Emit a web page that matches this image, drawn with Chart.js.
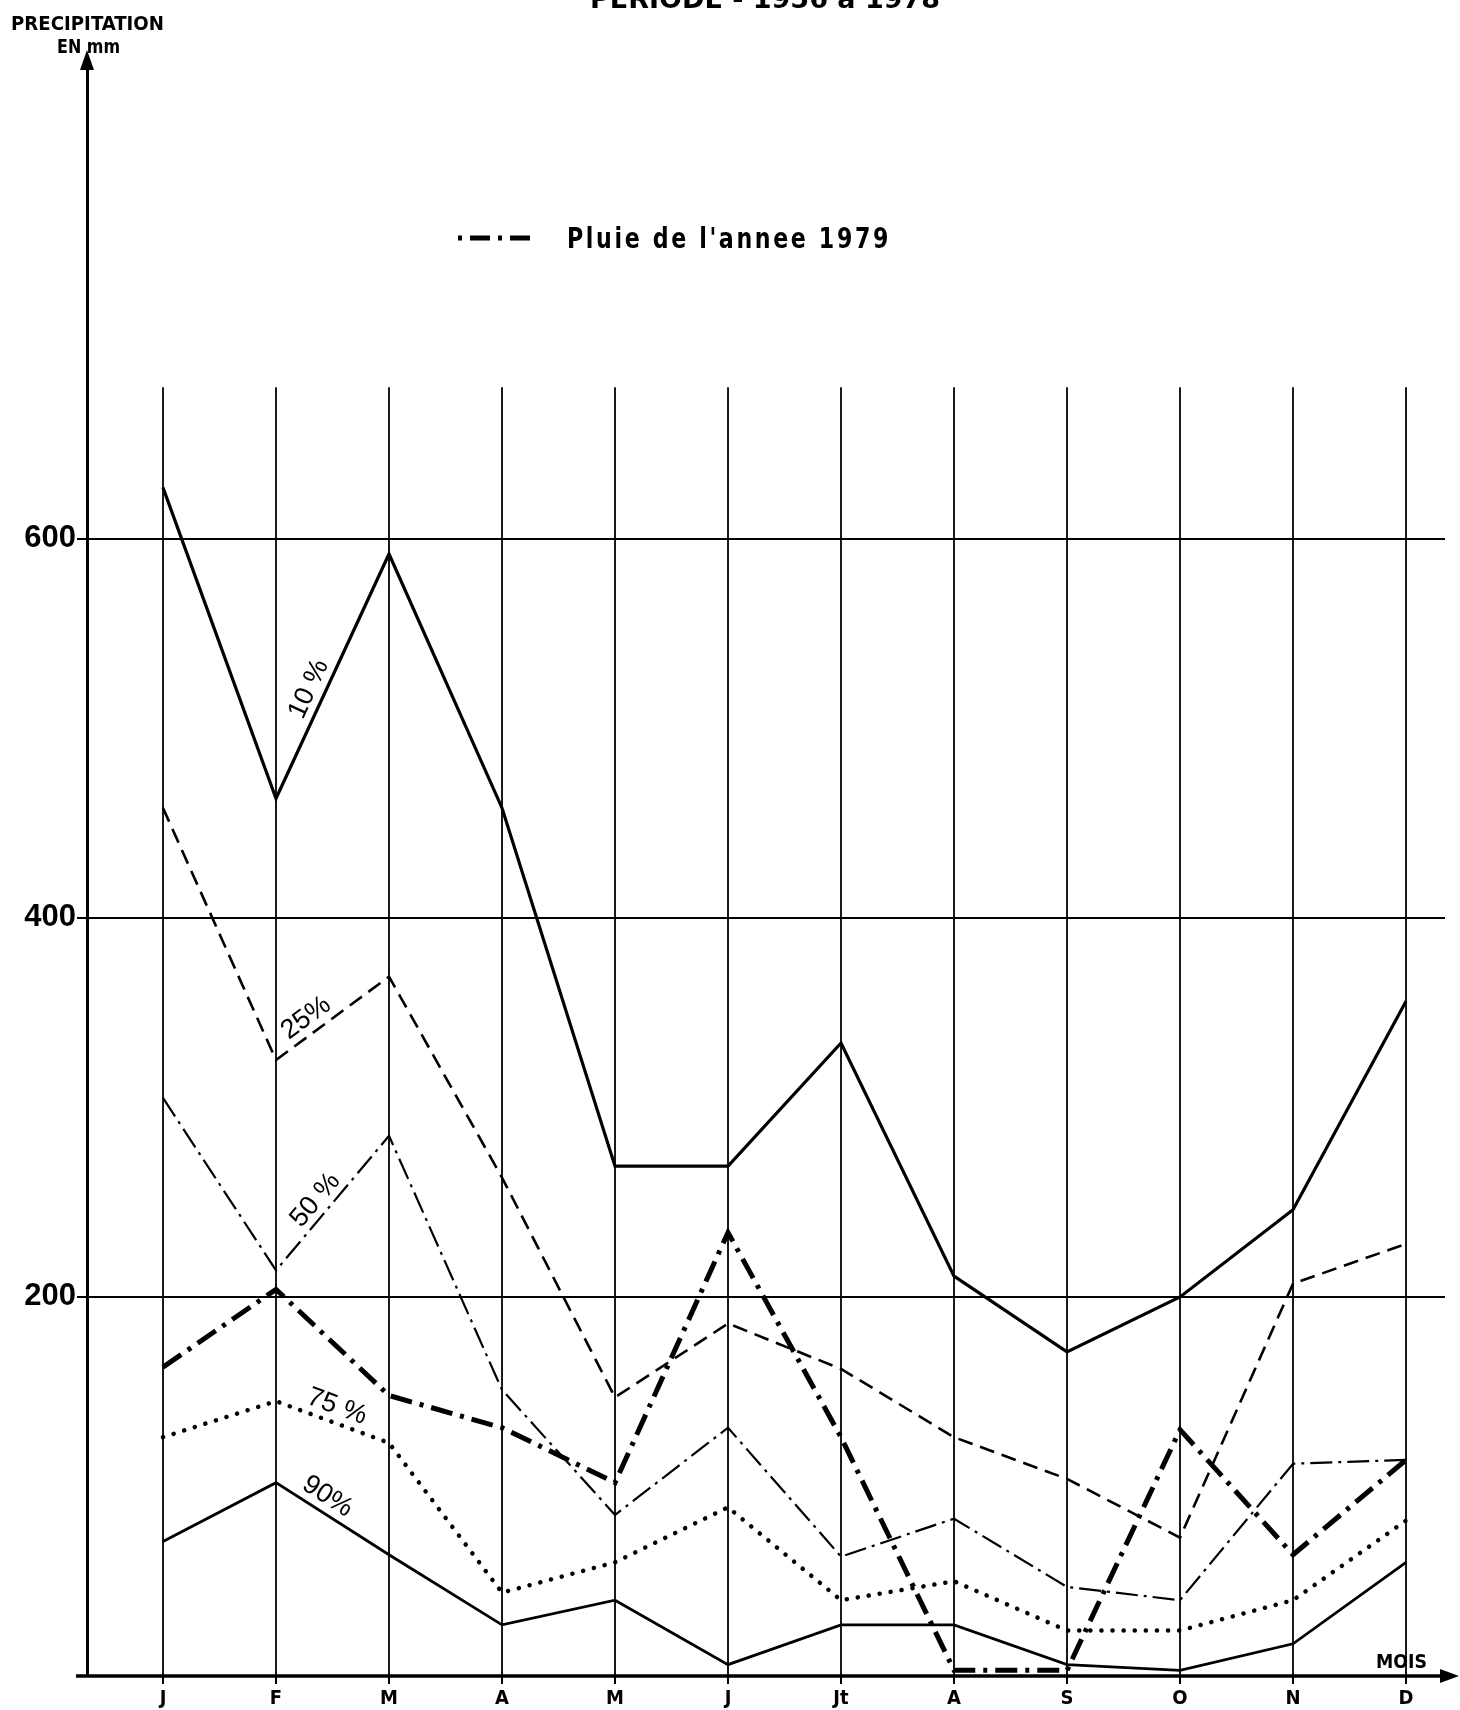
<!DOCTYPE html>
<html>
<head>
<meta charset="utf-8">
<script src="https://cdn.jsdelivr.net/npm/chart.js@4.4.1/dist/chart.umd.min.js"></script>
<style>
  html, body { margin: 0; padding: 0; background: #fff; }
  #wrap { width: 1460px; height: 1710px; }
</style>
</head>
<body>
<div id="wrap"><canvas id="myChart" width="1460" height="1710"></canvas></div>
<script>
// months on the x axis
var months = ["J", "F", "M", "A", "M", "J", "Jt", "A", "S", "O", "N", "D"];
var yTicks = [200, 400, 600];

// rainfall (mm) for each frequency curve
var rain10 = [627, 463, 592, 458, 269, 269, 334, 211, 171, 200, 246, 356];
var rain25 = [458, 325, 369, 263, 147, 186, 162, 126, 104, 73, 207, 228];
var rain50 = [305, 214, 285, 151, 85, 131, 63, 83, 47, 40, 112, 114];
var rain75 = [126, 145, 123, 44, 60, 89, 40, 50, 24, 24, 40, 82];
var rain90 = [71, 102, 64, 27, 40, 6, 27, 27, 6, 3, 17, 60];
var rain1979 = [163, 204, 148, 131, 102, 234, 126, 3, 3, 130, 64, 114];

var curveLabels = ["10 %", "25%", "50 %", "75 %", "90%"];
var legendLabel = "Pluie de l'annee 1979";
var titleText = "PERIODE - 1956 à 1978";

var boldFont = "'Liberation Sans Narrow', 'DejaVu Sans Condensed', 'Roboto Condensed', sans-serif";
var plainFont = "'Liberation Sans', Arial, sans-serif";

function pts(arr) {
  return arr.map(function (v, i) { return { x: i, y: v }; });
}

// draws text squeezed/stretched to a given width
function fitText(ctx, text, x, y, width, font) {
  ctx.save();
  ctx.font = font;
  var w = ctx.measureText(text).width;
  ctx.translate(x, y);
  ctx.scale(width / w, 1);
  ctx.textAlign = "left";
  ctx.fillText(text, 0, 0);
  ctx.restore();
}

// where the % labels sit along the F -> M segment of each curve
var labelPlaces = [
  { ds: 0, t: 0.42, off: 16 },
  { ds: 1, t: 0.35, off: 16 },
  { ds: 2, t: 0.45, off: 15 },
  { ds: 3, t: 0.49, off: 16 },
  { ds: 4, t: 0.38, off: 16 }
];

var decor = {
  id: "decor",
  beforeDatasetsDraw: function (chart) {
    var ctx = chart.ctx;
    var xs = chart.scales.x, ys = chart.scales.y;
    ctx.save();
    ctx.strokeStyle = "#000";
    ctx.lineWidth = 1.8;
    months.forEach(function (m, i) {
      var px = xs.getPixelForValue(i);
      ctx.beginPath();
      ctx.moveTo(px, ys.getPixelForValue(680));
      ctx.lineTo(px, ys.getPixelForValue(0));
      ctx.stroke();
    });
    ctx.restore();
  },
  afterDraw: function (chart) {
    var ctx = chart.ctx;
    var xs = chart.scales.x, ys = chart.scales.y;
    var area = chart.chartArea;
    var y0 = ys.getPixelForValue(0);
    ctx.save();
    ctx.fillStyle = "#000";
    ctx.strokeStyle = "#000";

    // x axis with arrow
    ctx.lineWidth = 3.5;
    ctx.beginPath();
    ctx.moveTo(76, y0);
    ctx.lineTo(1446, y0);
    ctx.stroke();
    ctx.beginPath();
    ctx.moveTo(1459, y0);
    ctx.lineTo(1440, y0 - 7);
    ctx.lineTo(1440, y0 + 7);
    ctx.closePath();
    ctx.fill();

    // y axis arrow
    var ax = area.left;
    ctx.beginPath();
    ctx.moveTo(ax, 50);
    ctx.lineTo(ax - 7, 70);
    ctx.lineTo(ax + 7, 70);
    ctx.closePath();
    ctx.fill();

    // texts
    fitText(ctx, titleText, 590, 8, 350, "bold 26px " + boldFont);
    fitText(ctx, "PRECIPITATION", 11, 30, 153, "bold 19px " + boldFont);
    fitText(ctx, "EN mm", 57, 53, 63, "bold 19px " + boldFont);
    fitText(ctx, "MOIS", 1376, 1668, 51, "bold 19px " + boldFont);

    // legend
    var ly = 238;
    ctx.lineWidth = 5;
    ctx.setLineDash([4, 8, 20, 8]);
    ctx.beginPath();
    ctx.moveTo(458, ly);
    ctx.lineTo(530, ly);
    ctx.stroke();
    ctx.setLineDash([]);
    ctx.save();
    ctx.font = "bold 28px " + boldFont;
    ctx.letterSpacing = "3px";
    var lw = ctx.measureText(legendLabel).width;
    ctx.translate(567, 248);
    ctx.scale(324 / lw, 1);
    ctx.fillText(legendLabel, 0, 0);
    ctx.restore();

    // curve labels
    ctx.font = "27px " + plainFont;
    ctx.textAlign = "center";
    ctx.textBaseline = "middle";
    labelPlaces.forEach(function (p, k) {
      var data = chart.data.datasets[p.ds].data;
      var x1 = xs.getPixelForValue(data[1].x), y1 = ys.getPixelForValue(data[1].y);
      var x2 = xs.getPixelForValue(data[2].x), y2 = ys.getPixelForValue(data[2].y);
      var ang = Math.atan2(y2 - y1, x2 - x1);
      var cx = x1 + p.t * (x2 - x1) + Math.sin(ang) * p.off;
      var cy = y1 + p.t * (y2 - y1) - Math.cos(ang) * p.off;
      ctx.save();
      ctx.translate(cx, cy);
      ctx.rotate(ang);
      ctx.fillText(curveLabels[k], 0, 0);
      ctx.restore();
    });
    ctx.restore();
  }
};

function renderChart() {
  const data = {
    datasets: [
      { label: "10 %", data: pts(rain10), borderWidth: 3.2, borderDash: [] },
      { label: "25 %", data: pts(rain25), borderWidth: 2.6, borderDash: [15, 8] },
      { label: "50 %", data: pts(rain50), borderWidth: 2.2, borderDash: [22, 6, 3, 6] },
      { label: "75 %", data: pts(rain75), borderWidth: 4.5, borderDash: [0.1, 11], borderCapStyle: "round" },
      { label: "90 %", data: pts(rain90), borderWidth: 2.8, borderDash: [] },
      { label: legendLabel, data: pts(rain1979), borderWidth: 5, borderDash: [22, 8, 4, 8] }
    ]
  };

  const config = {
    type: "line",
    data: data,
    options: {
      responsive: false,
      animation: false,
      layout: { padding: { top: 65, right: 15, left: 0, bottom: 0 } },
      plugins: { legend: { display: false }, tooltip: { enabled: false } },
      elements: {
        point: { radius: 0 },
        line: { tension: 0, borderColor: "#000", fill: false }
      },
      scales: {
        x: {
          type: "linear",
          min: -0.6726,
          max: 11.345,
          afterBuildTicks: function (s) { s.ticks = months.map(function (m, i) { return { value: i }; }); },
          afterFit: function (s) { s.height = 34; },
          border: { display: false },
          grid: { display: true, drawOnChartArea: false, drawTicks: true, tickLength: 8, color: "#000", lineWidth: 2 },
          ticks: {
            autoSkip: false,
            maxRotation: 0,
            padding: 3,
            color: "#000",
            font: { family: boldFont, size: 20, weight: "bold" },
            callback: function (v) { return months[v]; }
          }
        },
        y: {
          min: 0,
          max: 850,
          afterBuildTicks: function (s) { s.ticks = yTicks.map(function (v) { return { value: v }; }); },
          afterFit: function (s) { s.width = 87; },
          border: { display: true, color: "#000", width: 3 },
          grid: { color: "#000", lineWidth: 2, tickLength: 10 },
          ticks: {
            padding: 1,
            color: "#000",
            font: { family: plainFont, size: 31, weight: "bold" }
          }
        }
      }
    },
    plugins: [decor]
  };

  const myChart = new Chart(document.getElementById("myChart"), config);
}
renderChart();
</script>
</body>
</html>
